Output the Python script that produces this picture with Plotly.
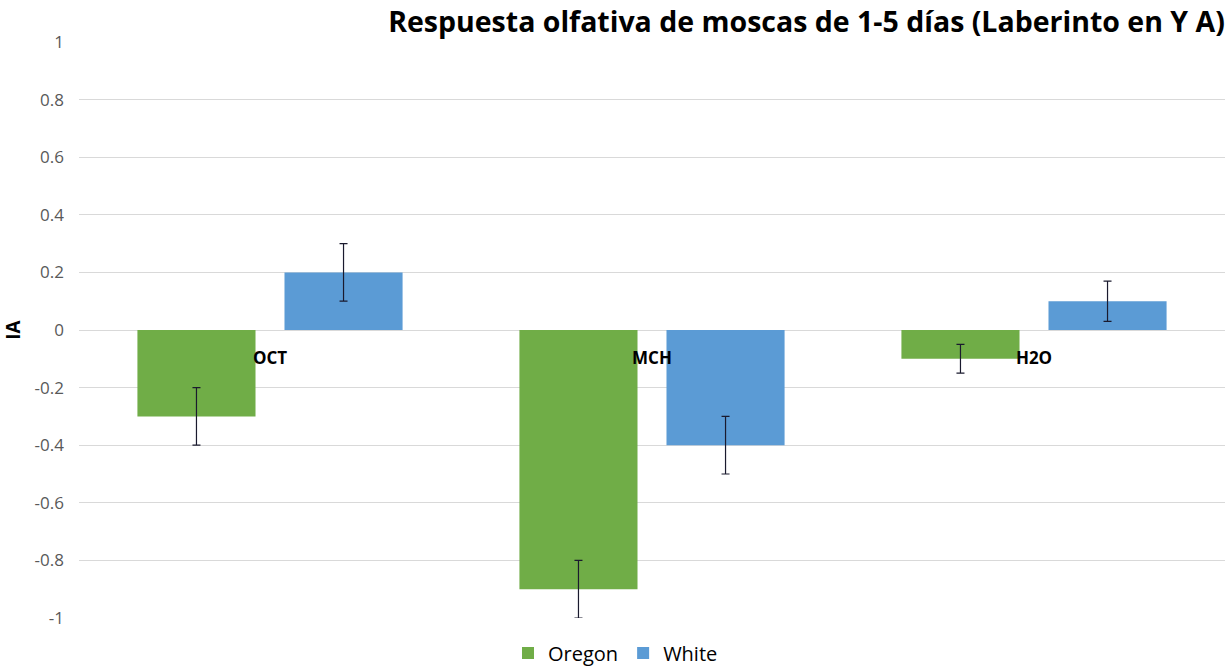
import plotly.graph_objects as go

categories = ["OCT", "MCH", "H2O"]
oregon = [-0.3, -0.9, -0.1]
oregon_err = [0.1, 0.1, 0.05]
white = [0.2, -0.4, 0.1]
white_err = [0.1, 0.1, 0.07]
y_ticks = [-1, -0.8, -0.6, -0.4, -0.2, 0, 0.2, 0.4, 0.6, 0.8, 1]
y_tick_text = ["-1", "-0.8", "-0.6", "-0.4", "-0.2", "0", "0.2", "0.4", "0.6", "0.8", "1"]

err_color = "#1a1a2e"

fig = go.Figure()
fig.add_trace(go.Bar(
    name="Oregon", x=categories, y=oregon,
    marker=dict(color="#70AD47", line=dict(width=0)),
    error_y=dict(type="data", array=oregon_err, visible=True,
                 color=err_color, thickness=1.2, width=4),
))
fig.add_trace(go.Bar(
    name="White", x=categories, y=white,
    marker=dict(color="#5B9BD5", line=dict(width=0)),
    error_y=dict(type="data", array=white_err, visible=True,
                 color=err_color, thickness=1.2, width=4),
))

fig.update_layout(
    width=1231, height=668,
    margin=dict(l=79, r=6, t=42, b=50, autoexpand=False),
    paper_bgcolor="white", plot_bgcolor="white",
    barmode="group", bargap=0.23, bargroupgap=0.197,
    title=dict(
        text="<b>Respuesta olfativa de moscas de 1-5 días (Laberinto en Y A)</b>",
        font=dict(family="Open Sans", size=28.5, color="#000000"),
        x=0.995, xanchor="right", xref="container",
        y=1 - 22 / 668, yanchor="middle", yref="container",
    ),
    legend=dict(
        orientation="h", x=0.5, xanchor="center", xref="container",
        y=1 - 653 / 668, yanchor="middle", yref="container",
        font=dict(family="Open Sans", size=20, color="#000000"),
        itemwidth=30, traceorder="normal",
    ),
    font=dict(family="Open Sans"),
)

fig.update_yaxes(
    range=[-1, 1], tickvals=y_ticks, ticktext=y_tick_text,
    tickfont=dict(family="Open Sans", size=17, color="#595959"),
    showgrid=True, gridcolor="#D9D9D9", gridwidth=1,
    zeroline=True, zerolinecolor="#D9D9D9", zerolinewidth=1,
    showline=False, ticks="", ticklabelstandoff=14,
    title=dict(text="<b>IA</b>", font=dict(family="Open Sans", size=19, color="#000000"), standoff=16),
)
fig.update_xaxes(
    anchor="free", position=0.5,
    showgrid=False, showline=False, zeroline=False, ticks="",
    tickfont=dict(family="Open Sans", size=17, color="#000000", weight="bold"),
    ticklabelstandoff=16,
)

fig.write_html("out.html")
